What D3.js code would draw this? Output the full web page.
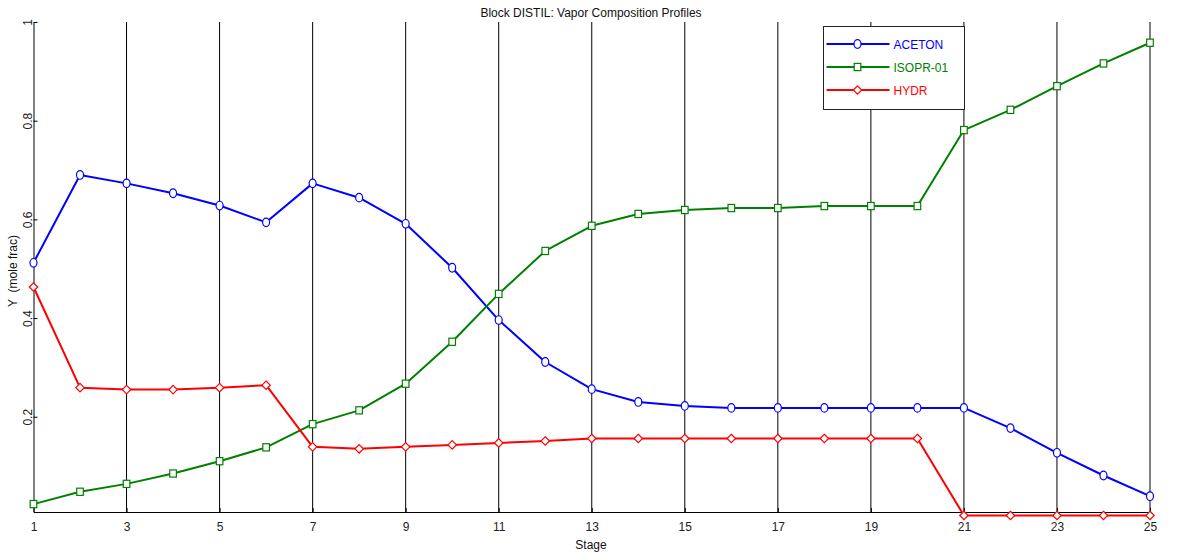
<!DOCTYPE html>
<html>
<head>
<meta charset="utf-8">
<script src="https://cdn.jsdelivr.net/npm/d3@7"></script>
<style>
  body { margin: 0; background: #fff; }
  svg { display: block; font-family: "Liberation Sans", Arial, sans-serif; }
</style>
</head>
<body>
<div id="chart"></div>
<script>
// stage numbers
var stages = d3.range(1, 26);
var xTicks = [1, 3, 5, 7, 9, 11, 13, 15, 17, 19, 21, 23, 25];
var yTicks = [0.2, 0.4, 0.6, 0.8, 1];

// vapor mole fractions
var aceton = [0.512, 0.690, 0.673, 0.653, 0.628, 0.594, 0.673, 0.644, 0.591, 0.502,
              0.396, 0.311, 0.256, 0.230, 0.222, 0.218, 0.218, 0.218, 0.218, 0.218,
              0.218, 0.177, 0.127, 0.081, 0.039];
var isopr = [0.023, 0.048, 0.064, 0.085, 0.110, 0.138, 0.185, 0.213, 0.267, 0.352,
             0.449, 0.536, 0.587, 0.611, 0.619, 0.623, 0.623, 0.627, 0.627, 0.627,
             0.781, 0.822, 0.870, 0.916, 0.958];
var hydr = [0.463, 0.259, 0.255, 0.255, 0.259, 0.264, 0.139, 0.135, 0.139, 0.143,
            0.147, 0.151, 0.156, 0.156, 0.156, 0.156, 0.156, 0.156, 0.156, 0.156,
            0.0, 0.0, 0.0, 0.0, 0.0];

var seriesNames = ["ACETON", "ISOPR-01", "HYDR"];
var seriesColors = ["#0000ff", "#008000", "#ff0000"];
var seriesMarkers = ["circle", "square", "diamond"];
var seriesData = [aceton, isopr, hydr];

var W = 1186, H = 554;
var margin = {left: 33.5, right: 36, top: 22, bottom: 42};

var svg = d3.select("#chart").append("svg")
    .attr("width", W)
    .attr("height", H);

var x = d3.scaleLinear()
    .domain([1, 25])
    .range([margin.left, W - margin.right]);

var y = d3.scaleLinear()
    .domain([0.007, 1])
    .range([H - margin.bottom, margin.top]);

// vertical grid lines at the labelled stages
svg.append("g")
    .selectAll("line")
    .data(xTicks.slice(1))
    .enter().append("line")
    .attr("x1", function(d) { return x(d); })
    .attr("x2", function(d) { return x(d); })
    .attr("y1", y(1))
    .attr("y2", y(0.007))
    .attr("stroke", "#000")
    .attr("stroke-width", 1);

// axes
var xAxis = svg.append("g")
    .attr("transform", "translate(0," + y(0.007) + ")")
    .call(d3.axisBottom(x).tickValues(xTicks).tickFormat(d3.format("d")).tickSizeInner(-4).tickSizeOuter(0).tickPadding(10));

var yAxis = svg.append("g")
    .attr("transform", "translate(" + margin.left + ",0)")
    .call(d3.axisLeft(y).tickValues(yTicks).tickFormat(function(d) { return d === 1 ? "1" : d3.format(".1f")(d); }).tickSizeInner(-4).tickSizeOuter(0));

[xAxis, yAxis].forEach(function(a) {
    a.select(".domain").attr("stroke", "#000");
    a.selectAll(".tick line").attr("stroke", "#000");
    a.selectAll("text").attr("fill", "#222").style("font-size", "12px")
        .style("font-family", "'Liberation Sans', Arial, sans-serif");
});

yAxis.selectAll(".tick text")
    .attr("x", 0)
    .attr("dy", 0)
    .attr("text-anchor", "middle")
    .attr("transform", "translate(-2,0) rotate(-90)");

// titles
svg.append("text")
    .attr("x", 591)
    .attr("y", 17)
    .attr("text-anchor", "middle")
    .style("font-size", "12px")
    .attr("fill", "#111")
    .text("Block DISTIL: Vapor Composition Profiles");

svg.append("text")
    .attr("x", 591)
    .attr("y", 549)
    .attr("text-anchor", "middle")
    .style("font-size", "12px")
    .attr("fill", "#111")
    .text("Stage");

svg.append("text")
    .attr("transform", "translate(17,271) rotate(-90)")
    .attr("text-anchor", "middle")
    .style("font-size", "12px")
    .style("white-space", "pre")
    .attr("fill", "#111")
    .text("Y  (mole frac)");

function drawMarker(g, type, cx, cy, color) {
    if (type === "circle") {
        g.append("ellipse").attr("cx", cx).attr("cy", cy).attr("rx", 3.5).attr("ry", 4.3)
            .attr("fill", "#fff").attr("stroke", color).attr("stroke-width", 1.2);
    } else if (type === "square") {
        g.append("rect").attr("x", cx - 3.3).attr("y", cy - 3.6).attr("width", 6.6).attr("height", 7.2)
            .attr("fill", "#fff").attr("stroke", color).attr("stroke-width", 1.2);
    } else {
        g.append("path")
            .attr("d", "M" + cx + "," + (cy - 4.2) + "L" + (cx + 4.2) + "," + cy + "L" + cx + "," + (cy + 4.2) + "L" + (cx - 4.2) + "," + cy + "Z")
            .attr("fill", "#fff").attr("stroke", color).attr("stroke-width", 1.2);
    }
}

var line = d3.line()
    .x(function(d) { return x(d[0]); })
    .y(function(d) { return y(d[1]); });

seriesData.forEach(function(vals, i) {
    var pts = stages.map(function(s, j) { return [s, vals[j]]; });
    var g = svg.append("g");
    g.append("path")
        .datum(pts)
        .attr("fill", "none")
        .attr("stroke", seriesColors[i])
        .attr("stroke-width", 2)
        .attr("stroke-linejoin", "round")
        .attr("d", line);
    pts.forEach(function(p) {
        drawMarker(g, seriesMarkers[i], x(p[0]), y(p[1]), seriesColors[i]);
    });
});

// legend
var legend = svg.append("g").attr("transform", "translate(823.5,26.5)");
legend.append("rect")
    .attr("width", 141)
    .attr("height", 83)
    .attr("fill", "#fff")
    .attr("stroke", "#222")
    .attr("stroke-width", 1);

seriesNames.forEach(function(name, i) {
    var ly = 17.5 + i * 23;
    legend.append("line")
        .attr("x1", 3).attr("x2", 66)
        .attr("y1", ly).attr("y2", ly)
        .attr("stroke", seriesColors[i])
        .attr("stroke-width", 2);
    drawMarker(legend, seriesMarkers[i], 34, ly, seriesColors[i]);
    legend.append("text")
        .attr("x", 70)
        .attr("y", ly + 5)
        .style("font-size", "12px")
        .attr("fill", seriesColors[i])
        .text(name);
});
</script>
</body>
</html>
